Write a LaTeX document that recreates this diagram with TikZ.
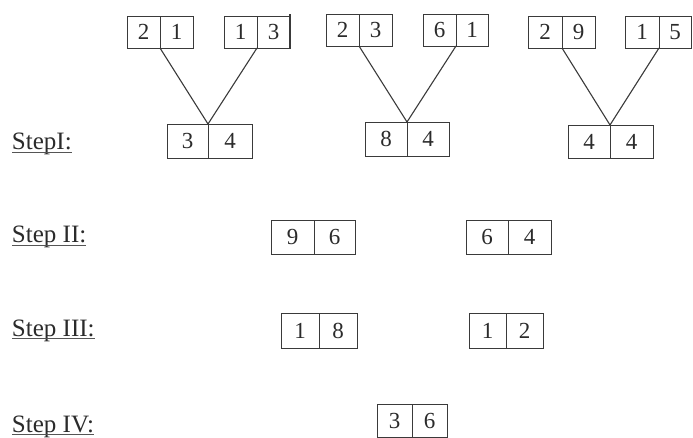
\documentclass[tikz,border=0pt]{standalone}
\usepackage{fontspec}
\setmainfont{Liberation Serif}
\definecolor{ink}{HTML}{2B2B2B}
\definecolor{edge}{HTML}{3A3A3A}
\tikzset{
  cell/.style={draw=edge, line width=0.9pt, inner sep=0pt, outer sep=0pt, text=ink,
    font=\fontsize{23}{23}\selectfont},
  conn/.style={draw=edge, line width=1.1pt},
  steplabel/.style={anchor=base west, inner sep=0pt, outer sep=0pt, text=ink,
    font=\fontsize{25}{25}\selectfont},
  ul/.style={draw=ink!80, line width=1pt}
}
% name, x-left, x-divider, x-right, y-top, y-bottom, left text, right text
\newcommand\cellpair[8]{%
  \node[cell, minimum width={(#3-#2)*1pt}, minimum height={(#6-#5)*1pt}]
    (#1a) at ({(#2+#3)/2},{(#5+#6)/2}) {#7};
  \node[cell, minimum width={(#4-#3)*1pt}, minimum height={(#6-#5)*1pt}]
    (#1b) at ({(#3+#4)/2},{(#5+#6)/2}) {#8};
}
\begin{document}
\begin{tikzpicture}[x=1pt, y=-1pt]
\path[use as bounding box] (0,0) rectangle (693,438);

% Step I, group 1
\cellpair{pA}{127}{160}{193}{16}{48}{2}{1}
\cellpair{pB}{224}{257}{290}{16}{48}{1}{3}
\cellpair{cA}{167}{208}{252}{124}{158}{3}{4}
\draw[edge, line width=1.8pt] ([yshift=1.5pt]pBb.north east) -- ([yshift=-1.5pt]pBb.south east);
\draw[conn] (pAa.south east) -- (cAa.north east);
\draw[conn] (pBa.south east) -- (cAa.north east);

% Step I, group 2
\cellpair{pC}{326}{359}{392}{14}{46}{2}{3}
\cellpair{pD}{423}{456}{488}{14}{46}{6}{1}
\cellpair{cB}{365}{407}{449}{122}{156}{8}{4}
\draw[conn] (pCa.south east) -- (cBa.north east);
\draw[conn] (pDa.south east) -- (cBa.north east);

% Step I, group 3
\cellpair{pE}{528}{562}{595}{16}{48}{2}{9}
\cellpair{pF}{625}{659}{691}{16}{48}{1}{5}
\cellpair{cC}{568}{610}{653}{125}{158}{4}{4}
\draw[conn] (pEa.south east) -- (cCa.north east);
\draw[conn] (pFa.south east) -- (cCa.north east);

% Step II
\cellpair{sA}{271}{314}{355}{220}{254}{9}{6}
\cellpair{sB}{466}{508}{551}{220}{254}{6}{4}

% Step III
\cellpair{tA}{281}{319}{357}{313}{348}{1}{8}
\cellpair{tB}{469}{506}{543}{313}{348}{1}{2}

% Step IV
\cellpair{uA}{377}{412}{447}{404}{437}{3}{6}

% Labels
\node[steplabel] (l1) at (12,150) {StepI:};
\node[steplabel] (l2) at (12,243) {Step II:};
\node[steplabel] (l3) at (12,336) {Step III:};
\node[steplabel] (l4) at (12,432) {Step IV:};
\foreach \l in {l1,l2,l3,l4}
  \draw[ul] ([yshift=-2.2pt]\l.base west) -- ([yshift=-2.2pt]\l.base east);
\end{tikzpicture}
\end{document}
